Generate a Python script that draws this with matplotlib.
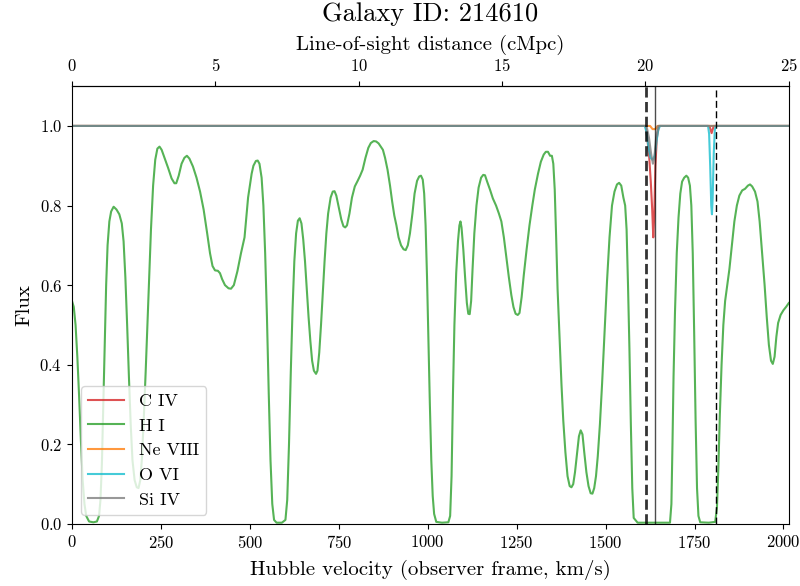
import numpy as np
import matplotlib
matplotlib.use("Agg")
import matplotlib.pyplot as plt

plt.rcParams["font.family"] = "serif"
plt.rcParams["font.serif"] = ["cmr10"]
plt.rcParams["mathtext.fontset"] = "cm"
plt.rcParams["axes.formatter.use_mathtext"] = True
plt.rcParams["axes.unicode_minus"] = False

galaxy_id = 214610
box_velocity = 2015.0   # km/s spanned by the sightline
box_length = 25.0       # cMpc

# H I flux along the sightline (velocity in km/s)
hi_velocity = [0, 5, 10, 15, 20, 25, 30, 35, 40, 48, 60, 70, 76, 80, 84, 88, 92, 96, 100, 105,
               110, 117, 125, 133, 140, 145, 150, 155, 160, 165, 170, 176, 182, 187, 192, 197,
               202, 207, 212, 217, 222, 228, 234, 240, 246, 252, 260, 270, 280, 288, 293, 300,
               308, 316, 323, 330, 340, 350, 360, 370, 380, 388, 395, 402, 410, 416, 422, 430,
               440, 447, 455, 465, 475, 485, 490, 495, 500, 505, 510, 517, 522, 527, 533, 538,
               543, 548, 553, 558, 563, 568, 575, 590, 600, 605, 610, 615, 620, 625, 630, 635,
               640, 645, 650, 655, 660, 665, 670, 675, 680, 686, 690, 695, 700, 705, 710, 715,
               720, 727, 733, 738, 743, 750, 757, 763, 768, 773, 780, 787, 795, 803, 810, 817,
               825, 833, 840, 848, 855, 862, 868, 874, 880, 887, 894, 900, 906, 912, 918, 925,
               932, 938, 944, 950, 957, 963, 970, 976, 981, 986, 990, 994, 998, 1002, 1006, 1010,
               1014, 1018, 1024, 1040, 1058, 1063, 1067, 1071, 1075, 1080, 1085, 1089, 1092, 1095,
               1100, 1105, 1110, 1114, 1118, 1122, 1126, 1131, 1137, 1143, 1150, 1156, 1161, 1167,
               1175, 1183, 1192, 1200, 1207, 1214, 1221, 1228, 1235, 1241, 1247, 1253, 1258, 1264,
               1270, 1278, 1286, 1294, 1301, 1310, 1318, 1326, 1332, 1338, 1344, 1349, 1353, 1357,
               1361, 1365, 1371, 1376, 1381, 1387, 1393, 1399, 1404, 1409, 1414, 1420, 1425, 1430,
               1435, 1440, 1446, 1452, 1458, 1463, 1468, 1473, 1478, 1484, 1490, 1497, 1504, 1511,
               1518, 1525, 1532, 1538, 1544, 1550, 1555, 1559, 1563, 1567, 1571, 1575, 1579, 1590,
               1620, 1660, 1681, 1685, 1688, 1691, 1695, 1700, 1705, 1710, 1715, 1721, 1727, 1732,
               1737, 1741, 1745, 1749, 1753, 1757, 1761, 1766, 1790, 1808, 1813, 1817, 1821, 1826,
               1831, 1836, 1842, 1848, 1855, 1862, 1869, 1876, 1884, 1892, 1900, 1906, 1912, 1920,
               1927, 1933, 1940, 1947, 1953, 1959, 1965, 1970, 1975, 1980, 1985, 1992, 2000, 2008,
               2015]
hi_flux = [0.560, 0.545, 0.500, 0.420, 0.320, 0.210, 0.110, 0.050, 0.020, 0.006, 0.004, 0.006,
           0.020, 0.060, 0.150, 0.300, 0.460, 0.600, 0.700, 0.760, 0.785, 0.797, 0.790, 0.778,
           0.755, 0.710, 0.620, 0.500, 0.370, 0.250, 0.160, 0.110, 0.092, 0.090, 0.110, 0.170,
           0.270, 0.380, 0.500, 0.620, 0.740, 0.850, 0.915, 0.943, 0.948, 0.940, 0.920, 0.895,
           0.868, 0.856, 0.856, 0.875, 0.905, 0.920, 0.925, 0.918, 0.898, 0.870, 0.835, 0.790,
           0.730, 0.680, 0.648, 0.637, 0.636, 0.630, 0.615, 0.600, 0.592, 0.591, 0.600, 0.635,
           0.680, 0.720, 0.770, 0.820, 0.850, 0.880, 0.900, 0.912, 0.913, 0.905, 0.870, 0.800,
           0.680, 0.520, 0.330, 0.160, 0.050, 0.010, 0.003, 0.003, 0.010, 0.060, 0.200, 0.380,
           0.540, 0.660, 0.730, 0.762, 0.768, 0.755, 0.715, 0.660, 0.590, 0.520, 0.460, 0.410,
           0.385, 0.377, 0.385, 0.430, 0.500, 0.580, 0.660, 0.730, 0.780, 0.820, 0.835, 0.836,
           0.825, 0.795, 0.765, 0.748, 0.745, 0.750, 0.780, 0.820, 0.848, 0.862, 0.875, 0.890,
           0.920, 0.945, 0.957, 0.962, 0.961, 0.956, 0.948, 0.940, 0.920, 0.890, 0.850, 0.810,
           0.775, 0.750, 0.720, 0.700, 0.690, 0.688, 0.700, 0.730, 0.780, 0.830, 0.862, 0.873,
           0.875, 0.865, 0.830, 0.750, 0.620, 0.460, 0.300, 0.160, 0.070, 0.025, 0.005, 0.003,
           0.004, 0.020, 0.120, 0.330, 0.500, 0.630, 0.710, 0.750, 0.760, 0.745, 0.690, 0.620,
           0.555, 0.528, 0.527, 0.560, 0.640, 0.730, 0.800, 0.845, 0.870, 0.877, 0.876, 0.860,
           0.840, 0.818, 0.800, 0.780, 0.760, 0.720, 0.670, 0.620, 0.575, 0.545, 0.528, 0.525,
           0.530, 0.570, 0.625, 0.690, 0.750, 0.800, 0.840, 0.880, 0.910, 0.928, 0.935, 0.935,
           0.925, 0.925, 0.905, 0.840, 0.720, 0.590, 0.460, 0.350, 0.260, 0.180, 0.120, 0.095,
           0.092, 0.100, 0.130, 0.180, 0.220, 0.235, 0.225, 0.180, 0.130, 0.095, 0.077, 0.076,
           0.090, 0.120, 0.170, 0.250, 0.350, 0.480, 0.610, 0.720, 0.800, 0.835, 0.853, 0.857,
           0.850, 0.820, 0.800, 0.740, 0.600, 0.440, 0.250, 0.090, 0.015, 0.003, 0.003, 0.003,
           0.003, 0.050, 0.200, 0.370, 0.530, 0.680, 0.770, 0.830, 0.860, 0.870, 0.875, 0.870,
           0.850, 0.800, 0.680, 0.480, 0.260, 0.090, 0.020, 0.004, 0.003, 0.005, 0.040, 0.140,
           0.270, 0.400, 0.500, 0.560, 0.600, 0.640, 0.700, 0.760, 0.800, 0.825, 0.838, 0.842,
           0.850, 0.853, 0.848, 0.835, 0.810, 0.760, 0.680, 0.600, 0.520, 0.450, 0.410, 0.402,
           0.420, 0.470, 0.505, 0.525, 0.537, 0.546, 0.555]

# metal ions: continuum at 1 with narrow absorbers
civ_velocity = [0, 1613, 1617, 1622, 1627, 1631, 1634, 1637, 1640, 1644, 1650,
                1792, 1798, 1804, 2015]
civ_flux = [1.0, 1.0, 0.97, 0.93, 0.86, 0.79, 0.72, 0.78, 0.90, 0.97, 1.0,
            1.0, 0.982, 1.0, 1.0]

neviii_velocity = [0, 1625, 1632, 1640, 1646, 2015]
neviii_flux = [1.0, 1.0, 0.992, 0.992, 1.0, 1.0]

ovi_velocity = [0, 1610, 1615, 1620, 1626, 1632, 1638, 1643, 1648, 1653,
                1788, 1791, 1794, 1797, 1799, 1801, 1804, 1807, 1810, 2015]
ovi_flux = [1.0, 1.0, 0.985, 0.95, 0.92, 0.915, 0.925, 0.96, 0.99, 1.0,
            1.0, 0.98, 0.90, 0.80, 0.778, 0.82, 0.93, 0.99, 1.0, 1.0]

siiv_velocity = [0, 1615, 1622, 1628, 1633, 1637, 1642, 1648, 2015]
siiv_flux = [1.0, 1.0, 0.97, 0.93, 0.905, 0.92, 0.97, 1.0, 1.0]

galaxy_velocity = 1613     # thick dashed marker
absorber_velocity = 1638   # solid marker
second_velocity = 1810     # thin dashed marker

fig = plt.figure(figsize=(8, 5.86), dpi=100)
ax = fig.add_axes([0.09, 0.106, 0.896, 0.747])

ax.plot(civ_velocity, civ_flux, color="tab:red", alpha=0.8, lw=1.5, label="C IV")
ax.plot(hi_velocity, hi_flux, color="tab:green", alpha=0.8, lw=1.5, label="H I")
ax.plot(neviii_velocity, neviii_flux, color="tab:orange", alpha=0.8, lw=1.5, label="Ne VIII")
ax.plot(ovi_velocity, ovi_flux, color="tab:cyan", alpha=0.8, lw=1.5, label="O VI")
ax.plot(siiv_velocity, siiv_flux, color="tab:gray", alpha=0.8, lw=1.5, label="Si IV")

ax.axvline(galaxy_velocity, color="k", ls="--", lw=2, alpha=0.8)
ax.axvline(absorber_velocity, color="k", ls="-", lw=1, alpha=0.7)
ax.axvline(second_velocity, color="k", ls=(0, (5, 2.5)), lw=1)

ax.set_xlim(0, box_velocity)
ax.set_ylim(0, 1.1)
ax.set_xticks(np.arange(0, 2001, 250))
ax.set_yticks(np.arange(0, 1.01, 0.2))
ax.tick_params(labelsize=12)
ax.set_xlabel("Hubble velocity (observer frame, km/s)", fontsize=15, labelpad=7)
ax.set_ylabel("Flux", fontsize=15)

top = ax.secondary_xaxis("top", functions=(lambda v: v * box_length / box_velocity,
                                           lambda d: d * box_velocity / box_length))
top.set_xticks(np.arange(0, 26, 5))
top.tick_params(labelsize=12, pad=5.5)
top.set_xlabel("Line-of-sight distance (cMpc)", fontsize=15, labelpad=5)

ax.set_title(f"Galaxy ID: {galaxy_id}", fontsize=19, pad=10)
ax.legend(loc="lower left", fontsize=13)

fig.savefig("out.png", dpi=100)
